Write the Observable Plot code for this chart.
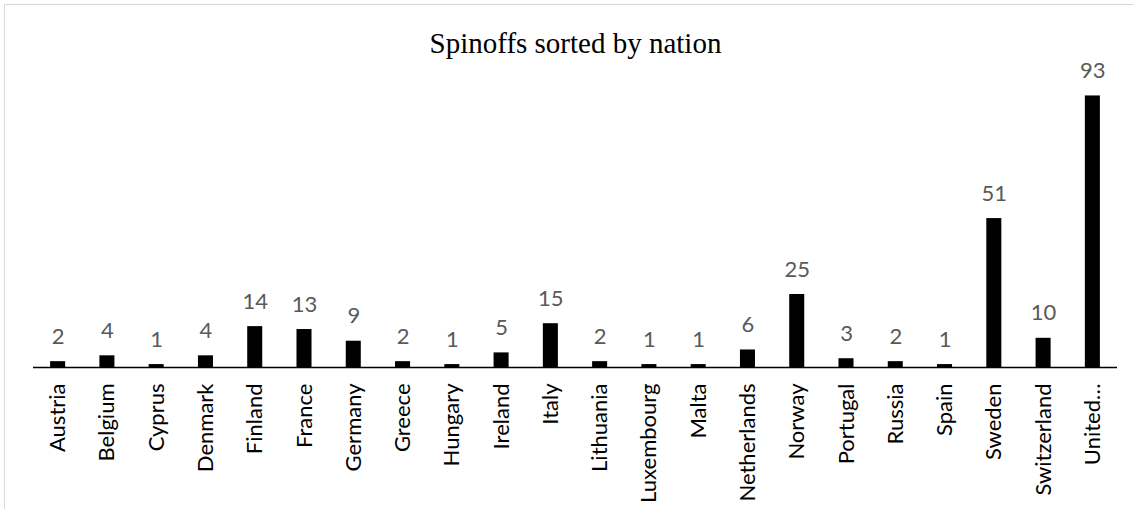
<!DOCTYPE html>
<html>
<head>
<meta charset="utf-8">
<script src="https://cdn.jsdelivr.net/npm/d3@7"></script>
<script src="https://cdn.jsdelivr.net/npm/@observablehq/plot@0.6"></script>
<style>
  html, body { margin: 0; padding: 0; background: #fff; }
  #wrap { position: relative; width: 1134px; height: 509px; overflow: hidden; }
  #border { position: absolute; left: 4px; top: 4px; width: 1200px; height: 600px;
            border-left: 1.5px solid #d9d9d9; border-top: 1.5px solid #d9d9d9; box-sizing: border-box; }
  #chart { position: absolute; left: 0; top: 0; }
</style>
</head>
<body>
<div id="wrap"><div id="border"></div><div id="chart"></div></div>
<script>
const nations = ["Austria","Belgium","Cyprus","Denmark","Finland","France","Germany","Greece","Hungary","Ireland","Italy","Lithuania","Luxembourg","Malta","Netherlands","Norway","Portugal","Russia","Spain","Sweden","Switzerland","United Kingdom"];
const tickLabels = ["Austria","Belgium","Cyprus","Denmark","Finland","France","Germany","Greece","Hungary","Ireland","Italy","Lithuania","Luxembourg","Malta","Netherlands","Norway","Portugal","Russia","Spain","Sweden","Switzerland","United…"];
const spinoffs = [2,4,1,4,14,13,9,2,1,5,15,2,1,1,6,25,3,2,1,51,10,93];
const title = "Spinoffs sorted by nation";

const data = nations.map((n, i) => ({nation: n, value: spinoffs[i]}));
const labelOf = new Map(nations.map((n, i) => [n, tickLabels[i]]));

const chart = Plot.plot({
  width: 1134,
  height: 509,
  marginLeft: 33,
  marginRight: 17,
  marginTop: 75,
  marginBottom: 142,
  style: {background: "transparent", fontFamily: "Lato, sans-serif"},
  x: {domain: nations, paddingInner: 0.695, paddingOuter: 0.3475, align: 0.5, round: false},
  y: {domain: [0, 100], axis: null},
  marks: [
    Plot.barY(data, {x: "nation", y: "value", fill: "#000"}),
    Plot.ruleY([0], {stroke: "#000", strokeWidth: 1.3}),
    Plot.text(data, {x: "nation", y: "value", text: d => String(d.value), dy: -25, fill: "#595959", fontSize: 22}),
    Plot.axisX({tickSize: 0, tickPadding: 16, tickRotate: -90, fontSize: 22, fill: "#000", tickFormat: d => labelOf.get(d), label: null}),
    Plot.text([title], {frameAnchor: "top", lineAnchor: "middle", dy: -32, fontFamily: "Liberation Serif, Times New Roman, serif", fontSize: 29, fill: "#000"})
  ]
});
document.getElementById("chart").appendChild(chart);
</script>
</body>
</html>
